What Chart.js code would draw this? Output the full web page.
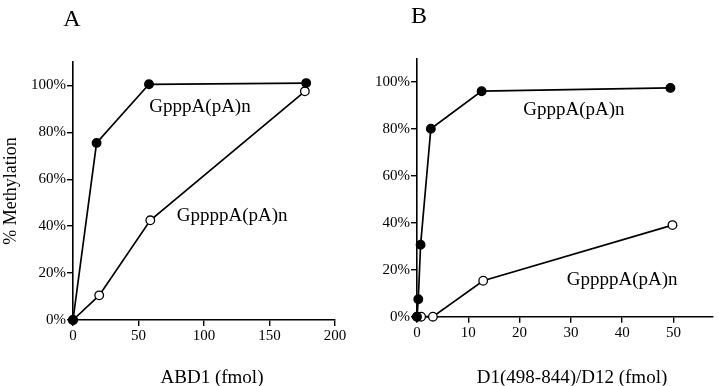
<!DOCTYPE html>
<html><head><meta charset="utf-8">
<script src="https://cdn.jsdelivr.net/npm/chart.js@4/dist/chart.umd.min.js"></script>
<style>
html,body{margin:0;padding:0;background:#fff;}
#wrap{position:relative;width:720px;height:386px;overflow:hidden;}
.pane{position:absolute;top:0;width:360px;height:386px;}
</style></head><body>
<div id="wrap">
<div class="pane" style="left:0"><canvas id="cA" width="360" height="386"></canvas></div>
<div class="pane" style="left:360px"><canvas id="cB" width="360" height="386"></canvas></div>
</div>
<script>
// ---- Data ----
// Panel A: ABD1 (fmol)
const aFilledX = [0, 18, 58, 178];
const aFilledY = [0, 75.5, 100.5, 101];
const aOpenX   = [0, 20, 59, 177];
const aOpenY   = [0, 10.5, 42.5, 97.5];
// Panel B: D1(498-844)/D12 (fmol)
const bFilledX = [0, 0.25, 0.7, 2.7, 12.6, 49.4];
const bFilledY = [0, 7.4, 30.6, 80, 96, 97.4];
const bOpenX   = [0, 0.8, 3.1, 12.9, 49.8];
const bOpenY   = [0, 0, 0, 15.3, 39];
// Tick values
const aXTicks = [0, 50, 100, 150, 200];
const bXTicks = [0, 10, 20, 30, 40, 50];
const yTicks  = [0, 20, 40, 60, 80, 100];
// Texts
const seriesNames = ['GpppA(pA)n', 'GppppA(pA)n'];
const panelLetters = ['A', 'B'];
const xTitles = ['ABD1 (fmol)', 'D1(498-844)/D12 (fmol)'];
const yTitle = '% Methylation';

const FONT = "'Liberation Serif', 'Times New Roman', serif";
Chart.defaults.font.family = FONT;
Chart.defaults.font.size = 15;
Chart.defaults.color = '#000';
const pts = (xs, ys) => xs.map((x, i) => ({x: x, y: ys[i]}));

const textPlugin = {
  id: 'panelText',
  afterDraw(chart, args, o) {
    const ctx = chart.ctx, xs = chart.scales.x, ys = chart.scales.y;
    ctx.save();
    ctx.fillStyle = '#000';
    ctx.textBaseline = 'alphabetic';
    ctx.font = '24px ' + FONT;
    ctx.textAlign = 'center';
    ctx.fillText(o.letter.text, o.letter.x, o.letter.y);
    ctx.font = '19px ' + FONT;
    ctx.fillText(o.xTitle.text, o.xTitle.x, o.xTitle.y);
    ctx.font = '19px ' + FONT;
    ctx.textAlign = 'left';
    o.labels.forEach(l => {
      ctx.fillText(l.text, xs.getPixelForValue(l.xv), ys.getPixelForValue(l.yv));
    });
    ctx.restore();
  }
};

function ds(data, filled) {
  return {
    data: data,
    showLine: true,
    borderColor: '#000',
    borderWidth: 1.7,
    pointRadius: 4.3,
    pointHoverRadius: 4.3,
    pointBorderWidth: 1.3,
    pointBorderColor: '#000',
    pointBackgroundColor: filled ? '#000' : '#fff',
    tension: 0,
    clip: false,
    fill: false
  };
}

function axisBase(tickVals, fmt) {
  return {
    type: 'linear',
    border: {display: true, color: '#000', width: 1.6},
    grid: {drawOnChartArea: false, drawTicks: true, tickLength: 6, color: '#000', lineWidth: 1.4},
    ticks: {
      color: '#000', font: {family: FONT, size: 15}, padding: 1,
      maxRotation: 0, autoSkip: false, callback: fmt
    },
    afterBuildTicks: s => { s.ticks = tickVals.map(v => ({value: v})); }
  };
}

function makePanel(id, cfg) {
  const xAxis = Object.assign(axisBase(cfg.xTicks, v => String(v)), {
    position: 'bottom', min: 0, max: cfg.xMax,
    afterFit: s => { s.height = cfg.xHeight; }
  });
  const yAxis = Object.assign(axisBase(yTicks, v => v + '%'), {
    position: 'left', min: 0, max: 110,
    afterFit: s => { s.width = cfg.yWidth; },
    title: cfg.yTitle ? {display: true, text: cfg.yTitle, color: '#000',
      font: {family: FONT, size: 18}, padding: {top: 0, bottom: 0}} : {display: false}
  });
  return new Chart(document.getElementById(id), {
    type: 'line',
    data: {datasets: [ds(pts(cfg.fx, cfg.fy), true), ds(pts(cfg.ox, cfg.oy), false)]},
    plugins: [textPlugin],
    options: {
      responsive: false, animation: false, events: [],
      layout: {padding: cfg.padding},
      scales: {x: xAxis, y: yAxis},
      plugins: {
        legend: {display: false}, tooltip: {enabled: false},
        panelText: {letter: cfg.letter, xTitle: cfg.xTitle, labels: cfg.labels}
      }
    }
  });
}

makePanel('cA', {
  fx: aFilledX, fy: aFilledY, ox: aOpenX, oy: aOpenY,
  xTicks: aXTicks, xMax: 200, xHeight: 66, yWidth: 73,
  padding: {left: 0, top: 62, right: 25, bottom: 0},
  yTitle: yTitle,
  letter: {text: panelLetters[0], x: 72, y: 26},
  xTitle: {text: xTitles[0], x: 212, y: 383},
  labels: [
    {text: seriesNames[0], xv: 58.3, yv: 88.6},
    {text: seriesNames[1], xv: 79.2, yv: 42.1}
  ]
});

makePanel('cB', {
  fx: bFilledX, fy: bFilledY, ox: bOpenX, oy: bOpenY,
  xTicks: bXTicks, xMax: 57.7, xHeight: 69.3, yWidth: 57,
  padding: {left: 0, top: 58.3, right: 7, bottom: 0},
  yTitle: null,
  letter: {text: panelLetters[1], x: 59, y: 23.3},
  xTitle: {text: xTitles[1], x: 212, y: 383},
  labels: [
    {text: seriesNames[0], xv: 20.7, yv: 85.8},
    {text: seriesNames[1], xv: 29.2, yv: 13.5}
  ]
});
</script>
</body></html>
